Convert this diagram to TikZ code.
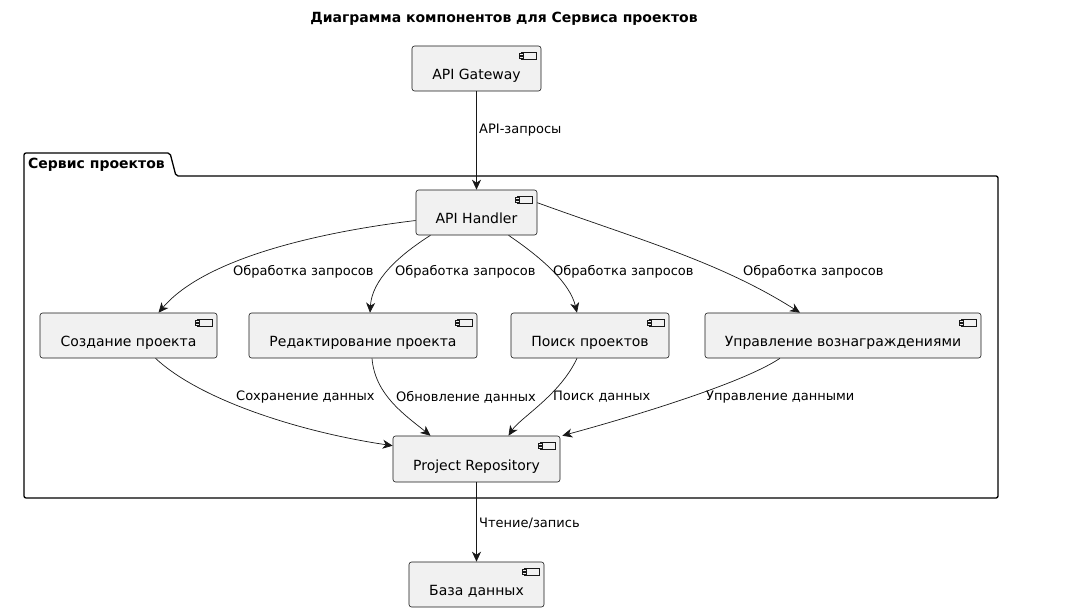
\documentclass[tikz,border=0pt]{standalone}
\usepackage{fontspec}
\setmainfont{DejaVu Sans}
\usetikzlibrary{positioning, arrows.meta, calc}
\definecolor{boxfill}{HTML}{F1F1F1}
\definecolor{boxline}{HTML}{181818}
\tikzset{
    component/.style={draw=boxline, fill=boxfill, rounded corners=2.5pt, line width=0.6pt,
        minimum height=45pt, text height=24pt, text depth=2pt, inner sep=0pt,
        font=\fontsize{14}{16}\selectfont, path picture={
        \draw[sharp corners, line width=0.5pt, fill=boxfill] ([xshift=-20pt,yshift=-6pt]path picture bounding box.north east) rectangle ([xshift=-5pt,yshift=-13pt]path picture bounding box.north east);
        \draw[sharp corners, line width=0.5pt, fill=boxfill] ([xshift=-22pt,yshift=-7.5pt]path picture bounding box.north east) rectangle ([xshift=-18pt,yshift=-9.5pt]path picture bounding box.north east);
        \draw[sharp corners, line width=0.5pt, fill=boxfill] ([xshift=-22pt,yshift=-10pt]path picture bounding box.north east) rectangle ([xshift=-18pt,yshift=-12pt]path picture bounding box.north east);
    }},
    package/.style={draw=black, line width=1.3pt, rounded corners=2pt},
    title_text/.style={font=\bfseries\fontsize{14}{16}\selectfont},
    flow/.style={-{Stealth[length=10pt,width=9pt,inset=3pt]}, line width=0.7pt, draw=boxline},
    flow_label/.style={font=\fontsize{13}{15}\selectfont, anchor=west, inner sep=0pt}
}

\begin{document}
\begin{tikzpicture}[x=1pt, y=-1pt]
      \useasboundingbox (0,0) rectangle (1066,615);

      % --- Title ---
      \node (title) [title_text] at (504,19) {Диаграмма компонентов для Сервиса проектов};

      % --- Package ---
      \draw[package] (24,498) -- (24,153) -- (170,153) -- (176,176) -- (998,176) -- (998,498) -- cycle;
      \node (pkg_label) [title_text, anchor=west, inner sep=0pt] at (28,165) {Сервис проектов};

      % --- Components ---
      \node (gateway) [component, minimum width=129pt] at (476.5,68.5) {API Gateway};
      \node (handler) [component, minimum width=121pt] at (476.5,212.5) {API Handler};
      \node (create) [component, minimum width=177pt] at (128.5,335.5) {Создание проекта};
      \node (edit) [component, minimum width=228pt] at (363,335.5) {Редактирование проекта};
      \node (search) [component, minimum width=158pt] at (590,335.5) {Поиск проектов};
      \node (reward) [component, minimum width=276pt] at (843,335.5) {Управление вознаграждениями};
      \node (repo) [component, minimum width=167pt, minimum height=46pt] at (476.5,459) {Project Repository};
      \node (db) [component, minimum width=135pt] at (476.5,584.5) {База данных};

      % --- Gateway to handler ---
      \draw[flow] (gateway) -- (handler);
      \node (l_api) [flow_label] at (479,130) {API-запросы};

      % --- Handler to functions ---
      \draw[flow] ([yshift=-8pt]handler.west) .. controls (320,232) and (205,258) .. ([xshift=30pt]create.north);
      \node (l_req1) [flow_label] at (233,272) {Обработка запросов};
      \draw[flow] ([xshift=-46pt]handler.south) .. controls (398,256) and (372,280) .. ([xshift=7pt]edit.north);
      \node (l_req2) [flow_label] at (395,272) {Обработка запросов};
      \draw[flow] ([xshift=32pt]handler.south) .. controls (542,258) and (570,283) .. ([xshift=-13pt]search.north);
      \node (l_req3) [flow_label] at (553,272) {Обработка запросов};
      \draw[flow] ([yshift=-13pt]handler.north east) .. controls (640,240) and (720,262) .. ([xshift=-43pt]reward.north);
      \node (l_req4) [flow_label] at (743,272) {Обработка запросов};

      % --- Functions to repository ---
      \draw[flow] ([xshift=27pt]create.south) .. controls (200,400) and (300,432) .. ([yshift=-10pt]repo.north west);
      \node (l_save) [flow_label] at (236,397) {Сохранение данных};
      \draw[flow] ([xshift=9pt]edit.south) .. controls (375,395) and (405,415) .. ([xshift=-46pt]repo.north);
      \node (l_upd) [flow_label] at (396,397) {Обновление данных};
      \draw[flow] ([xshift=-13pt]search.south) .. controls (560,395) and (520,418) .. ([xshift=32pt]repo.north);
      \node (l_find) [flow_label] at (553,397) {Поиск данных};
      \draw[flow] ([xshift=-63pt]reward.south) .. controls (740,385) and (620,420) .. ([xshift=2pt]repo.north east);
      \node (l_mgmt) [flow_label] at (706,397) {Управление данными};

      % --- Repository to database ---
      \draw[flow] (repo) -- (db);
      \node (l_rw) [flow_label] at (479,523) {Чтение/запись};
\end{tikzpicture}
\end{document}
